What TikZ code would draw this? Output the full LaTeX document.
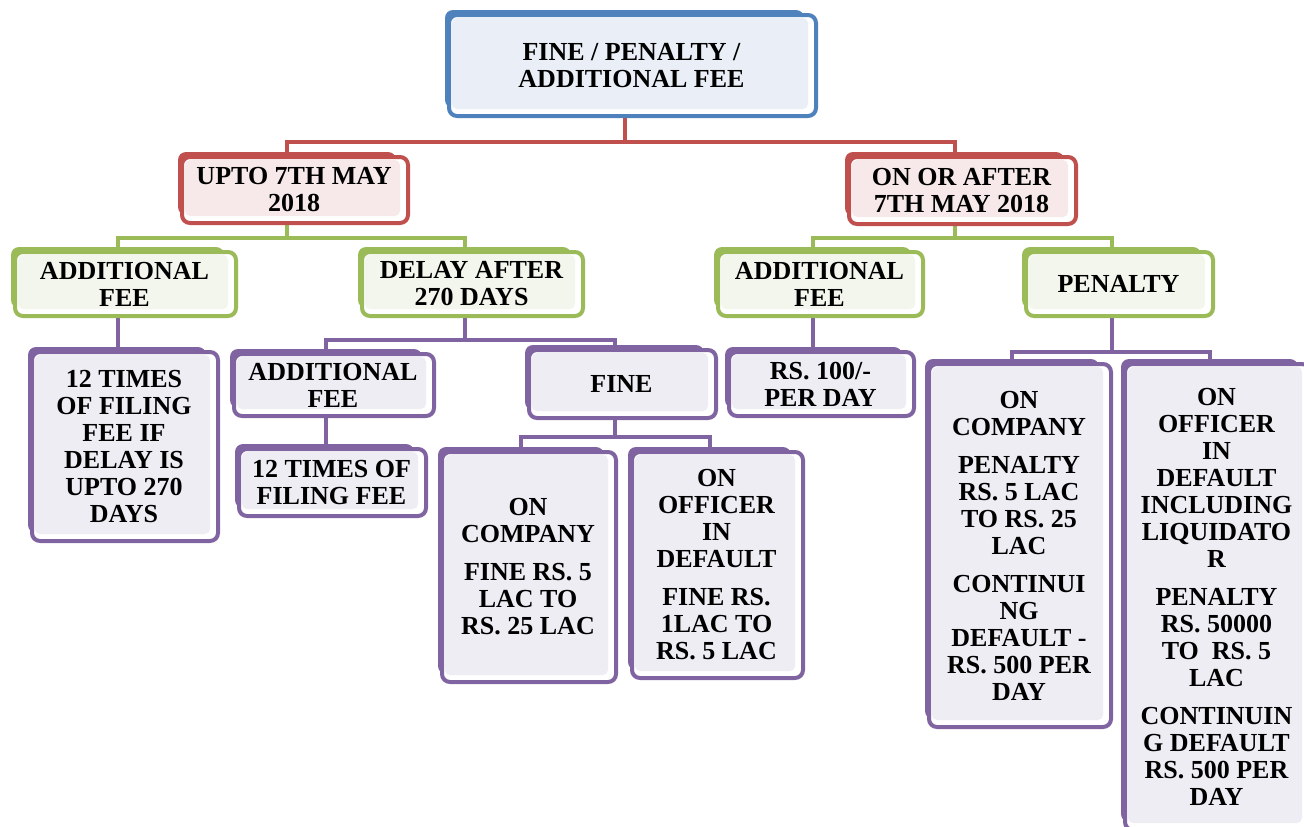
\documentclass[tikz,border=0pt]{standalone}
\usepackage{fontspec}
\setmainfont{Liberation Serif}
\usetikzlibrary{backgrounds}
\definecolor{cBlue}{HTML}{4F81BD}
\definecolor{lBlue}{HTML}{EAEFF7}
\definecolor{cRed}{HTML}{C0504D}
\definecolor{lRed}{HTML}{F7E9E9}
\definecolor{cGreen}{HTML}{9BBB59}
\definecolor{lGreen}{HTML}{F2F6EC}
\definecolor{cPurple}{HTML}{8064A2}
\definecolor{lPurple}{HTML}{EFEDF4}
\tikzset{
  backbox/.style={rectangle, rounded corners=8pt, inner sep=0pt, draw=none},
  frontbox/.style={line width=4pt, fill=white, rounded corners=8pt},
  txt/.style={align=center, inner sep=0pt, text=black, font=\bfseries\fontsize{26pt}{27pt}\selectfont},
  conn/.style={line width=4pt},
}
% #1 name, #2 X0, #3 Y0, #4 X1, #5 Y1, #6 colour, #7 light fill, #8 text
\newcommand\obox[8]{%
  \node[backbox, fill=#6, minimum width={(#4-#2-12)*1pt}, minimum height={(#5-#3-7)*1pt}]
     (#1) at ({(#2+#4)/2-8},{(#3+#5)/2-6.5}) {};
  \draw[frontbox, draw=#6] (#2+2,#3+2) rectangle (#4-2,#5-2);
  \fill[#7, rounded corners=5pt] (#2+5,#3+5) rectangle (#4-10,#5-9);
  \node[txt] (#1-t) at ({(#2+#4)/2-1},{(#3+#5)/2}) {#8};
}
\begin{document}
\begin{tikzpicture}[x=1pt,y=-1pt]
\useasboundingbox (0,0) rectangle (1304,827);
\clip (0,0) rectangle (1304,827);

\obox{top}{447}{13}{818}{118}{cBlue}{lBlue}{FINE / PENALTY /\\ADDITIONAL FEE}
\obox{upto}{180}{155}{410}{225}{cRed}{lRed}{UPTO 7TH MAY\\2018}
\obox{after}{847}{155}{1078}{226}{cRed}{lRed}{ON OR AFTER\\7TH MAY 2018}
\obox{gAddA}{13}{250}{238}{318}{cGreen}{lGreen}{ADDITIONAL\\FEE}
\obox{gDelay}{360}{250}{585}{318}{cGreen}{lGreen}{DELAY AFTER\\270 DAYS}
\obox{gAddB}{716}{250}{925}{318}{cGreen}{lGreen}{ADDITIONAL\\FEE}
\obox{gPen}{1024}{250}{1215}{318}{cGreen}{lGreen}{PENALTY}
\obox{pTwelveA}{30}{350}{220}{543}{cPurple}{lPurple}{12 TIMES\\OF FILING\\FEE IF\\DELAY IS\\UPTO 270\\DAYS}
\obox{pAdd}{232}{352}{436}{418}{cPurple}{lPurple}{ADDITIONAL\\FEE}
\obox{pFine}{527}{348}{718}{420}{cPurple}{lPurple}{FINE}
\obox{pTwelveB}{237}{447}{428}{518}{cPurple}{lPurple}{12 TIMES OF\\FILING FEE}
\obox{pCompA}{440}{450}{618}{684}{cPurple}{lPurple}{ON\\COMPANY\\[11pt]FINE RS. 5\\LAC TO\\RS. 25 LAC}
\obox{pOffA}{630}{450}{805}{680}{cPurple}{lPurple}{ON\\OFFICER\\IN\\DEFAULT\\[11pt]FINE RS.\\1LAC TO\\RS. 5 LAC}
\obox{pRs}{727}{350}{916}{418}{cPurple}{lPurple}{RS. 100/-\\PER DAY}
\obox{pCompB}{927}{362}{1113}{729}{cPurple}{lPurple}{ON\\COMPANY\\[11pt]PENALTY\\RS. 5 LAC\\TO RS. 25\\LAC\\[11pt]CONTINUI\\NG\\DEFAULT -\\RS. 500 PER\\DAY}
\obox{pOffB}{1123}{362}{1312}{832}{cPurple}{lPurple}{ON\\OFFICER\\IN\\DEFAULT\\INCLUDING\\LIQUIDATO\\R\\[11pt]PENALTY\\RS. 50000\\TO\ \ RS. 5\\LAC\\[11pt]CONTINUIN\\G DEFAULT\\RS. 500 PER\\DAY}

\coordinate (busTop) at (0,142);
\coordinate (busDate) at (0,238);
\coordinate (busDelay) at (0,340);
\coordinate (busFine) at (0,437);
\coordinate (busPen) at (0,352);

\begin{pgfonlayer}{background}
\draw[conn,cRed] (top.south) -- (top.south |- busTop) -| (upto.north);
\draw[conn,cRed] (top.south) -- (top.south |- busTop) -| (after.north);
\draw[conn,cGreen] (upto.south) -- (upto.south |- busDate) -| (gAddA.north);
\draw[conn,cGreen] (upto.south) -- (upto.south |- busDate) -| (gDelay.north);
\draw[conn,cGreen] (after.south) -- (after.south |- busDate) -| (gAddB.north);
\draw[conn,cGreen] (after.south) -- (after.south |- busDate) -| (gPen.north);
\draw[conn,cPurple] (gAddA.south) -- (gAddA.south |- pTwelveA.north);
\draw[conn,cPurple] (gDelay.south) -- (gDelay.south |- busDelay) -| (pAdd.north);
\draw[conn,cPurple] (gDelay.south) -- (gDelay.south |- busDelay) -| (pFine.north);
\draw[conn,cPurple] (pAdd.south) -- (pAdd.south |- pTwelveB.north);
\draw[conn,cPurple] (pFine.south) -- (pFine.south |- busFine) -| (pCompA.north);
\draw[conn,cPurple] (pFine.south) -- (pFine.south |- busFine) -| (pOffA.north);
\draw[conn,cPurple] (gAddB.south) -- (gAddB.south |- pRs.north);
\draw[conn,cPurple] (gPen.south) -- (gPen.south |- busPen) -| (pCompB.north);
\draw[conn,cPurple] (gPen.south) -- (gPen.south |- busPen) -| (pOffB.north);
\end{pgfonlayer}
\end{tikzpicture}
\end{document}
